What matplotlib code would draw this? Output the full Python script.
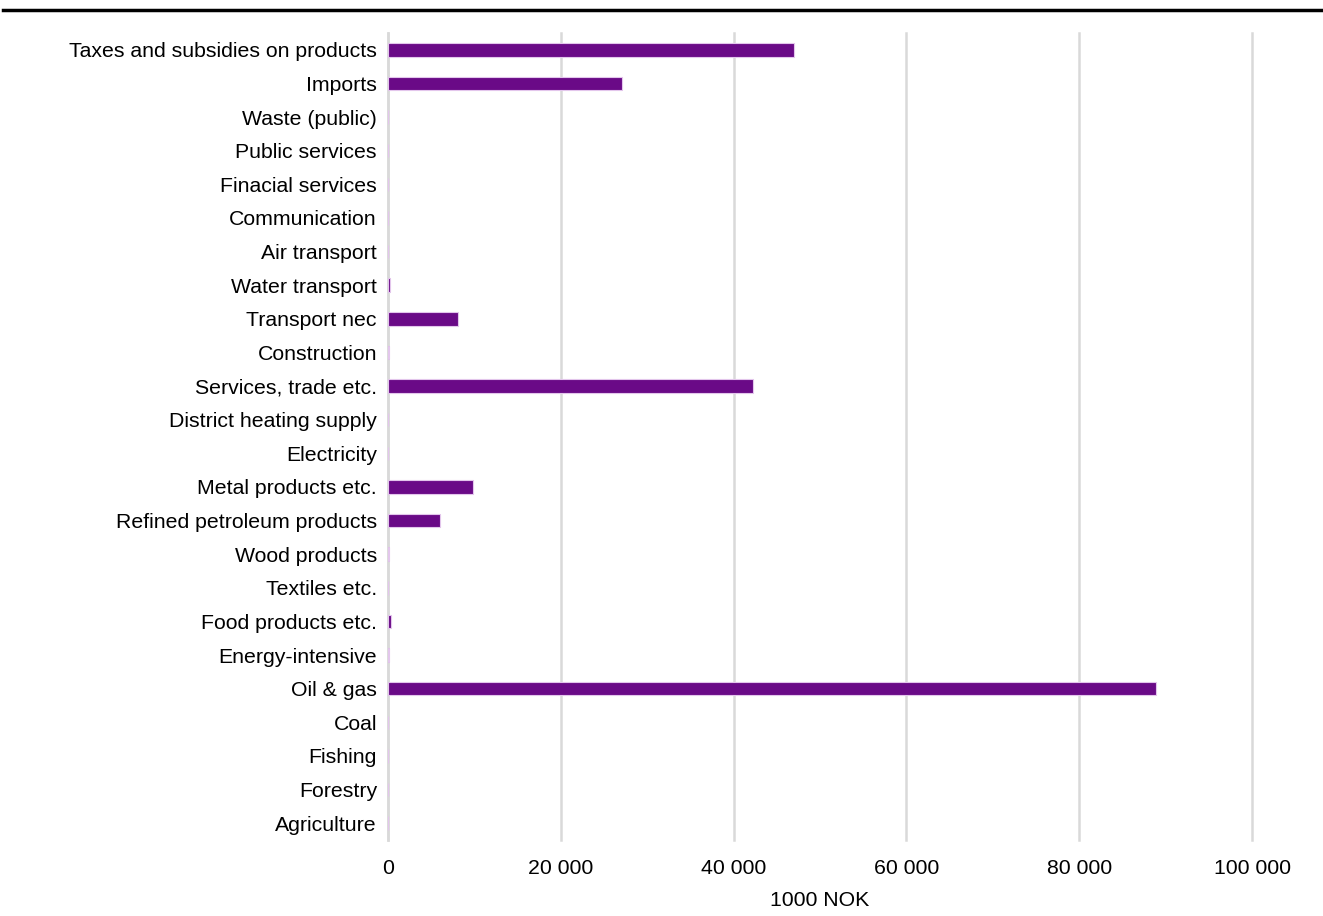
import matplotlib.pyplot as plt
from matplotlib.lines import Line2D
from matplotlib.ticker import FuncFormatter

plt.rcParams['font.family'] = ['Liberation Sans', 'DejaVu Sans']

# Categories bottom to top
sectors = ['Agriculture', 'Forestry', 'Fishing', 'Coal', 'Oil & gas',
           'Energy-intensive', 'Food products etc.', 'Textiles etc.',
           'Wood products', 'Refined petroleum products', 'Metal products etc.',
           'Electricity', 'District heating supply', 'Services, trade etc.',
           'Construction', 'Transport nec', 'Water transport', 'Air transport',
           'Communication', 'Finacial services', 'Public services',
           'Waste (public)', 'Imports', 'Taxes and subsidies on products']
values = [0, 0, 0, 0, 88900,
          120, 350, 0,
          100, 6000, 9850,
          0, 0, 42200,
          60, 8100, 250, 30,
          0, 0, 0,
          0, 27100, 47000]

fig = plt.figure(figsize=(13.23, 9.16), dpi=100)
ax = fig.add_axes([388 / 1323, 0.083, (1252 - 388) / 1323, 0.881])

ax.barh(range(len(sectors)), values, height=0.4, color='#6a0a87',
        edgecolor='#e3c6ec', linewidth=0.8, zorder=3)

ax.set_ylim(-0.5, len(sectors) - 0.5)
ax.set_xlim(0, 100000)
ax.set_xticks([0, 20000, 40000, 60000, 80000, 100000])
ax.xaxis.set_major_formatter(FuncFormatter(lambda v, p: f'{int(v):,}'.replace(',', ' ')))
ax.set_yticks(range(len(sectors)))
ax.set_yticklabels(sectors)
ax.tick_params(axis='both', length=0, labelsize=15.3, colors='black')
ax.tick_params(axis='y', pad=8)
ax.tick_params(axis='x', pad=14)
ax.grid(axis='x', color='#d9d9d9', linewidth=1.8, zorder=0)
for gl in ax.get_xgridlines():
    gl.set_clip_on(False)
for s in ['top', 'right', 'bottom']:
    ax.spines[s].set_visible(False)
ax.spines['left'].set_color('#d9d9d9')
ax.spines['left'].set_linewidth(1.8)
ax.set_xlabel('1000 NOK', fontsize=15.3, labelpad=9)

# heavy rule under the (cropped) title
fig.add_artist(Line2D([0.002, 1], [1 - 10 / 916, 1 - 10 / 916], color='black',
                      linewidth=2.5, transform=fig.transFigure))

fig.savefig('out.png', dpi=100)
